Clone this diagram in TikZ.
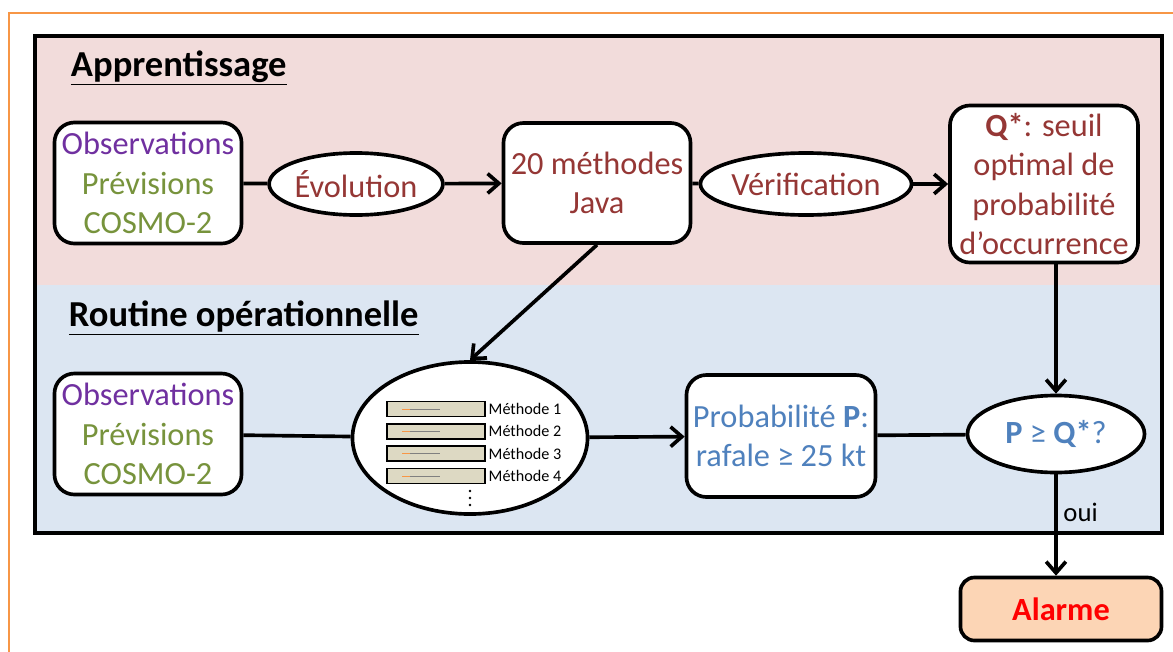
\documentclass[tikz,border=0pt]{standalone}
\usepackage{fontspec}
\setmainfont{Carlito}
\usetikzlibrary{shapes.geometric,arrows.meta}

\definecolor{framepeach}{HTML}{F79646}
\definecolor{learnpink}{HTML}{F2DCDB}
\definecolor{routineblue}{HTML}{DCE6F2}
\definecolor{obspurple}{HTML}{7030A0}
\definecolor{prevgreen}{HTML}{77933C}
\definecolor{darkred}{HTML}{953735}
\definecolor{probblue}{HTML}{4F81BD}
\definecolor{alarmfill}{HTML}{FCD5B5}
\definecolor{methodtan}{HTML}{DDD9C3}

\tikzset{
  box/.style={draw, line width=2.6pt, rounded corners=0.5cm, fill=white, align=center, inner sep=0pt},
  oval/.style={draw, ellipse, line width=2.6pt, fill=white, align=center, inner sep=0pt},
  link/.style={line width=2.6pt},
  arrow/.style={link, -{Straight Barb[length=8pt,width=14pt,line width=2.6pt]}},
  heading/.style={anchor=west, font=\fontsize{26}{31}\selectfont\bfseries}
}

\begin{document}
\begin{tikzpicture}[x=0.025cm, y=-0.025cm, font=\fontsize{23}{28}\selectfont]
\path[use as bounding box, clip] (0,0) rectangle (1173,652);
\draw[framepeach, line width=2pt] (9,13) rectangle (1200,700);

% the two stages
\fill[learnpink] (35,36) rectangle (1162,285);
\fill[routineblue] (35,285) rectangle (1162,533);
\draw[line width=2.6pt] (35,36) rectangle (1162,533);
\node[heading] (hA) at (66,68) {\underline{Apprentissage}};
\node[heading] (hR) at (64,318) {\underline{Routine opérationnelle}};

% learning row
\node[box, minimum width=4.675cm, minimum height=3.025cm] (obsA) at (148,183)
  {\textcolor{obspurple}{Observations}\\\textcolor{prevgreen}{Prévisions}\\\textcolor{prevgreen}{COSMO-2}};
\node[oval, minimum width=4.075cm, minimum height=1.55cm, text=darkred] (evo) at (356,184) {Évolution};
\node[box, minimum width=4.675cm, minimum height=3.0cm, text=darkred] (m20) at (597,183) {20 méthodes\\Java};
\node[oval, minimum width=4.2cm, minimum height=1.55cm, text=darkred] (verif) at (806,184) {Vérification};
\node[box, minimum width=4.7cm, minimum height=3.925cm, text=darkred] (qstar) at (1044,184)
  {\textbf{Q*}: seuil\\optimal de\\probabilité\\d’occurrence};

% operational row
\node[box, minimum width=4.675cm, minimum height=3.025cm] (obsB) at (148,434)
  {\textcolor{obspurple}{Observations}\\\textcolor{prevgreen}{Prévisions}\\\textcolor{prevgreen}{COSMO-2}};
\node[oval, minimum width=5.875cm, minimum height=3.8cm] (meth) at (470,438) {};
\foreach \i in {1,...,4} {
  \pgfmathsetmacro{\ym}{409+22.3*(\i-1)}
  \draw[methodtan, fill=methodtan] (387,\ym-7.5) rectangle (485,\ym+7.5);
  \draw[line width=1pt] (387,\ym-7.5) rectangle (485,\ym+7.5);
  \draw[framepeach, line width=0.4pt] (402,\ym) -- (410,\ym);
  \draw[gray, line width=0.4pt] (410,\ym) -- (440,\ym);
  \node[anchor=west, inner sep=1pt, font=\fontsize{11.5}{13}\selectfont] (mlab\i) at (487,\ym) {Méthode \i};
}
\foreach \yd in {491,498,505}
  \fill (470,\yd) circle (1.3);
\node[box, minimum width=4.725cm, minimum height=3.05cm, text=probblue] (prob) at (781,436)
  {Probabilité \textbf{P}:\\rafale ≥ 25 kt};
\node[oval, minimum width=4.425cm, minimum height=1.925cm, text=probblue] (pq) at (1056,434)
  {\textbf{P} ≥ \textbf{Q*}?};
\node[box, rounded corners=0.35cm, minimum width=5.025cm, minimum height=1.575cm, fill=alarmfill,
  text=red, font=\fontsize{23}{28}\selectfont\bfseries] (alarm) at (1061,609) {Alarme};

% connectors
\draw[link] (obsA) -- (evo);
\draw[arrow] (evo) -- (m20);
\draw[link] (m20) -- (verif);
\draw[arrow] (verif) -- (qstar);
\draw[arrow] (m20.south) -- (meth.north);
\draw[arrow] (pq.north |- qstar.south) -- (pq.north);
\draw[link] (obsB) -- (meth);
\draw[arrow] (meth) -- (prob);
\draw[link] (prob) -- (pq);
\draw[arrow] (pq.south) -- (pq.south |- alarm.north)
  node[pos=0.38, right, inner sep=4pt, font=\fontsize{19}{22}\selectfont] (oui) {oui};
\end{tikzpicture}
\end{document}
